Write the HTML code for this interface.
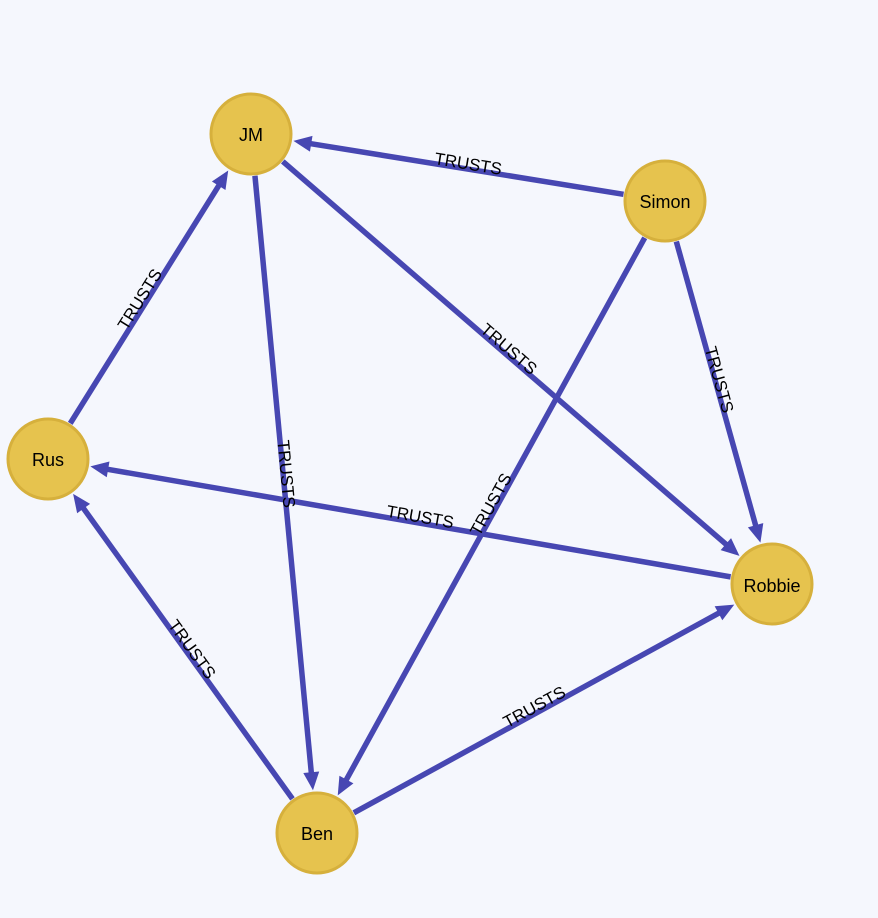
<!DOCTYPE html>
<html><head><meta charset="utf-8"><style>
html,body{margin:0;padding:0;background:#f5f7fd;}
svg{display:block}
text{font-family:"Liberation Sans",Arial,sans-serif;}
</style></head><body>
<svg id="s" width="878" height="918" viewBox="0 0 878 918" xmlns="http://www.w3.org/2000/svg">
<rect width="878" height="918" fill="#f5f7fd"/>
<g id="edges"></g>
<g font-size="17" fill="#000" text-anchor="middle" dominant-baseline="middle">
<text transform="translate(468,165) rotate(9.2)">TRUSTS</text>
<text transform="translate(141,300) rotate(-58)">TRUSTS</text>
<text transform="translate(285,474) rotate(84.6)">TRUSTS</text>
<text transform="translate(508,350) rotate(40.9)">TRUSTS</text>
<text transform="translate(718,380) rotate(74.6)">TRUSTS</text>
<text transform="translate(492,505) rotate(-61.2)">TRUSTS</text>
<text transform="translate(420,518) rotate(9.9)">TRUSTS</text>
<text transform="translate(191,650) rotate(54.3)">TRUSTS</text>
<text transform="translate(535,708) rotate(-28.6)">TRUSTS</text>
</g>
<g stroke="#d6b03c" stroke-width="3" fill="#e6c34e">
<circle cx="251" cy="134" r="40"/>
<circle cx="665" cy="201" r="40"/>
<circle cx="48" cy="459" r="40"/>
<circle cx="772" cy="584" r="40"/>
<circle cx="317" cy="833" r="40"/>
</g>
<g font-size="18" fill="#000" text-anchor="middle" dominant-baseline="middle">
<text x="251" y="136">JM</text>
<text x="665" y="203">Simon</text>
<text x="48" y="461">Rus</text>
<text x="772" y="587">Robbie</text>
<text x="317" y="835">Ben</text>
</g>
</svg>
<script>
var N={JM:[251,134],Simon:[665,201],Rus:[48,459],Robbie:[772,584],Ben:[317,833]};
var E=[["Simon","JM"],["Rus","JM"],["JM","Ben"],["JM","Robbie"],["Simon","Robbie"],["Simon","Ben"],["Robbie","Rus"],["Ben","Rus"],["Ben","Robbie"]];
var g=document.getElementById("edges"),h="";
E.forEach(function(e){var a=N[e[0]],b=N[e[1]],dx=b[0]-a[0],dy=b[1]-a[1],L=Math.hypot(dx,dy),ux=dx/L,uy=dy/L;
var sx=a[0]+ux*42,sy=a[1]+uy*42,tx=b[0]-ux*43,ty=b[1]-uy*43,bx=tx-ux*18,by=ty-uy*18,px=-uy,py=ux;
h+='<line x1="'+sx+'" y1="'+sy+'" x2="'+(bx+ux*2)+'" y2="'+(by+uy*2)+'" stroke="#4747b2" stroke-width="5.5"/>';
h+='<polygon fill="#4747b2" points="'+tx+','+ty+' '+(bx+px*8)+','+(by+py*8)+' '+(bx-px*8)+','+(by-py*8)+'"/>';});
g.innerHTML=h;
</script>
</body></html>
